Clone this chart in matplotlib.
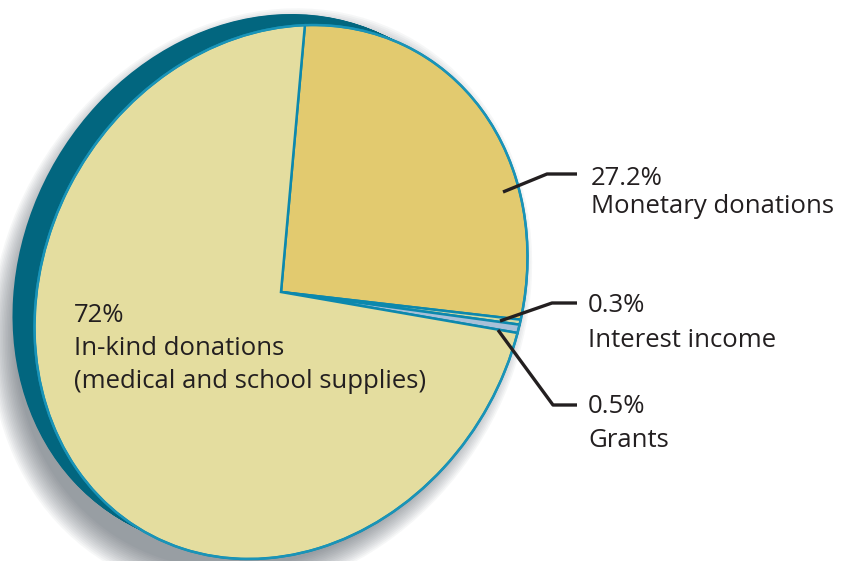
import numpy as np
import matplotlib
matplotlib.use("Agg")
import matplotlib.pyplot as plt
from matplotlib.patches import Circle
from matplotlib.transforms import Affine2D

# slice data (clockwise from the top boundary)
labels = ["Monetary donations", "Interest income", "Grants",
          "In-kind donations\n(medical and school supplies)"]
shares = [27.2, 0.3, 0.5, 72.0]
share_text = ["27.2%", "0.3%", "0.5%", "72%"]
colors = ["#e2ca6f", "#d3d9a6", "#a8c0d8", "#e4dd9f"]

W, H = 841, 561
CX, CY = 281, H - 292          # pie centre in pixel coords (y up)
RIM = "#02667f"
EDGE = "#0c88ad"
INK = "#231f20"

# ellipse shape of the tilted face: M @ M.T = S
S = np.array([[246.5 ** 2, 8628.0], [8628.0, 267.0 ** 2]])
vals, vecs = np.linalg.eigh(S)
M = vecs @ np.diag(np.sqrt(vals)) @ vecs.T
d_top = np.linalg.solve(M, np.array([24.0, 268.0]))
start = np.degrees(np.arctan2(d_top[1], d_top[0]))


def face_tf(dx=0.0, dy=0.0, scale=1.0):
    return Affine2D().from_values(M[0, 0] * scale, M[1, 0] * scale,
                                  M[0, 1] * scale, M[1, 1] * scale,
                                  CX + dx, CY + dy)


fig = plt.figure(figsize=(W / 100, H / 100), dpi=100)
ax = fig.add_axes([0, 0, 1, 1])

# soft drop shadow
for s in np.linspace(1.10, 1.0, 16):
    c = Circle((0, 0), 1, facecolor="#3e4a55", edgecolor="none", alpha=0.045)
    c.set_transform(face_tf(-20, -10, s) + ax.transData)
    ax.add_patch(c)

# extruded side of the pie
for k in np.linspace(0, 1, 30):
    c = Circle((0, 0), 1, facecolor=RIM, edgecolor="none")
    c.set_transform(face_tf(-22 * k, 11 * k) + ax.transData)
    ax.add_patch(c)

wedges, _ = ax.pie(shares, colors=colors, startangle=start, counterclock=False,
                   wedgeprops=dict(edgecolor=EDGE, linewidth=1.8))
for w in wedges:
    w.set_transform(face_tf() + ax.transData)
    w.set_zorder(3)

# outer rim line of the face
ring = Circle((0, 0), 1, facecolor="none", edgecolor="#1a94b8", linewidth=1.6, zorder=4)
ring.set_transform(face_tf() + ax.transData)
ax.add_patch(ring)

font = dict(family=["Open Sans", "DejaVu Sans"], color=INK, fontsize=18.5)

# leader lines and labels on the right (baselines in pixel rows)
leaders = [
    [(503, 192), (547, 174), (577, 174)],
    [(500, 321), (552, 303), (577, 303)],
    [(498, 330), (553, 405), (577, 405)],
]
label_pos = [(591, 185, 213), (588, 312, 347), (588, 413, 447)]
for pts, (x, y1, y2), pct, lab in zip(leaders, label_pos, share_text[:3], labels[:3]):
    xs = [p[0] for p in pts]
    ys = [H - p[1] for p in pts]
    ax.plot(xs, ys, color=INK, linewidth=2.4, solid_capstyle="butt", zorder=5)
    ax.text(x, H - y1, pct, va="baseline", ha="left", **font, zorder=6)
    ax.text(x, H - y2, lab, va="baseline", ha="left", **font, zorder=6)

inkind = labels[3].split("\n")
ax.text(74, H - 322, share_text[3], va="baseline", ha="left", **font, zorder=6)
ax.text(74, H - 355, inkind[0], va="baseline", ha="left", **font, zorder=6)
ax.text(74, H - 388, inkind[1], va="baseline", ha="left", **font, zorder=6)

ax.set_xlim(0, W)
ax.set_ylim(0, H)
ax.set_aspect("auto")
ax.axis("off")

fig.savefig("out.png", dpi=100)
